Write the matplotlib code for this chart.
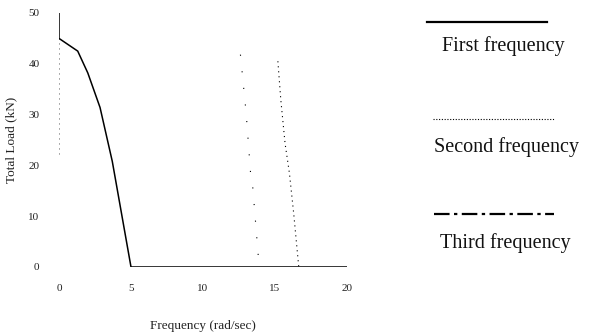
import numpy as np
import matplotlib
matplotlib.use("Agg")
import matplotlib.pyplot as plt
from matplotlib.lines import Line2D

plt.rcParams['font.family'] = ['Liberation Serif', 'DejaVu Serif']

# Load versus frequency for the three modes (NaN breaks a series into pieces)
first_freq = [0, 0, 1.3, 2.0, 2.85, 3.7, 5.0, 20.0]
first_load = [50, 45, 42.5, 38.2, 31.4, 20.8, 0, 0]

second_freq = [0, 0, np.nan, 15.2, 15.4, 15.7, 16.0, 16.3, 16.65]
second_load = [45, 22, np.nan, 40.5, 33.0, 24.3, 18.5, 10.5, 0]

third_freq = [12.6, 13.0, 13.3, 13.45, 13.9]
third_load = [41.8, 30.2, 18.6, 15.9, 0]

x_ticks = [0, 5, 10, 15, 20]
y_ticks = [0, 10, 20, 30, 40, 50]
series_names = ["First frequency", "Second frequency", "Third frequency"]

fig = plt.figure(figsize=(5.99, 3.32), dpi=100)
ax = fig.add_axes([59/599, 65/332, 288/599, 254/332])

ax.plot(first_freq, first_load, color='black', lw=1.1, solid_joinstyle='miter')
ax.plot(second_freq, second_load, color='black', lw=0.8, linestyle=(0, (1, 3.5)))
ax.plot(third_freq, third_load, color='black', lw=0.8, linestyle=(0, (1, 14)))

ax.set_xlim(0, 20)
ax.set_ylim(0, 50)
ax.set_xticks(x_ticks)
ax.set_yticks(y_ticks)
ax.set_xticklabels([str(v) for v in x_ticks])
ax.set_yticklabels([str(v) for v in y_ticks])
for s in ax.spines.values():
    s.set_visible(False)
ax.tick_params(length=0, labelsize=8, colors='#222222')
ax.tick_params(axis='y', pad=14)
ax.tick_params(axis='x', pad=12)
ax.set_xlabel("Frequency (rad/sec)", fontsize=9.5, labelpad=20, color='#222222')
ax.set_ylabel("Total Load (kN)", fontsize=9.5, labelpad=8, color='#222222')

# Legend drawn as figure-level lines and captions
H = 332.0
W = 599.0
legend_rows = [
    (22, 46, dict(linestyle='-', lw=1.6), 427, 547, 503),
    (119, 147, dict(linestyle=(0, (1, 1.5)), lw=0.8), 433, 554, 507),
    (214, 243, dict(linestyle=(0, (7, 2, 1.5, 2)), lw=1.6), 434, 554, 505),
]
for name, (ly, ty, style, x0, x1, tx) in zip(series_names, legend_rows):
    fig.add_artist(Line2D([x0/W, x1/W], [1 - ly/H, 1 - ly/H],
                          color='black', transform=fig.transFigure, **style))
    fig.text(tx / W, 1 - ty/H, name, ha='center', va='center',
             fontsize=14.5, color='#111111')

fig.savefig("out.png", dpi=100)
